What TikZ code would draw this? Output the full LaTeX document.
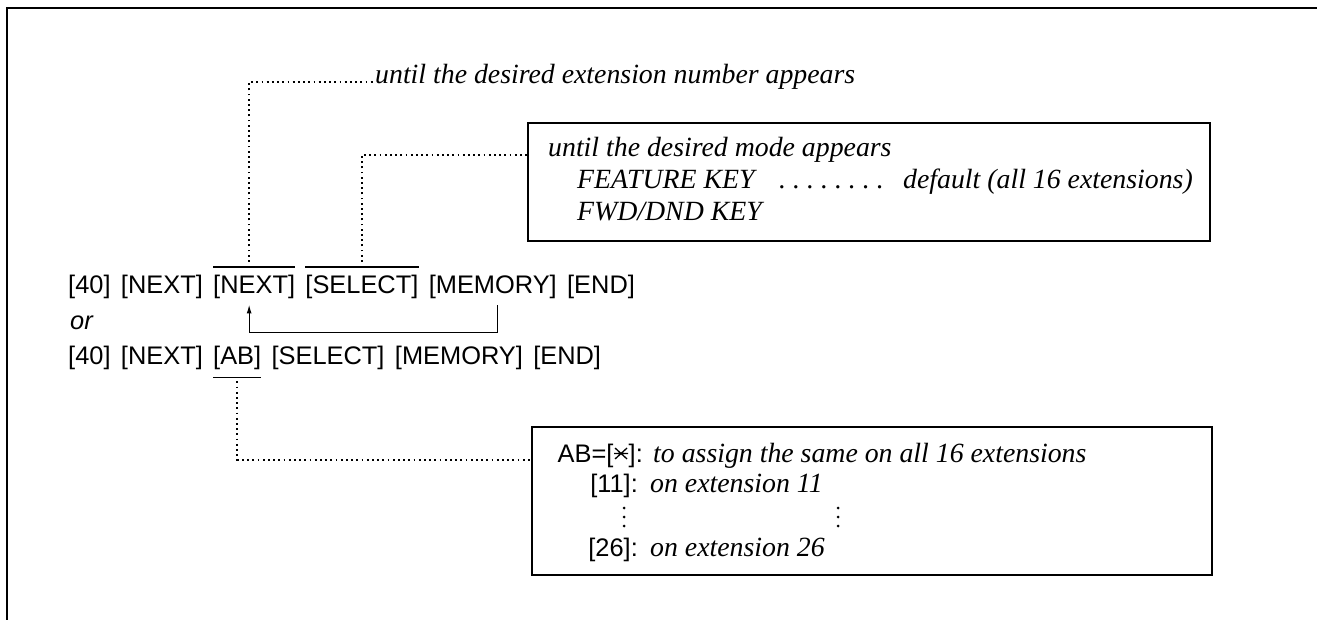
\documentclass[tikz,border=0pt]{standalone}
\usepackage{fontspec}
\newfontfamily\keyfont{Liberation Sans}
\newfontfamily\notefont{Liberation Serif}
\usetikzlibrary{arrows.meta}
\newcommand{\starkey}{\tikz[baseline=0pt]\draw[line width=1.3pt] (1pt,3pt)--(13pt,14pt) (1pt,14pt)--(13pt,3pt) (0pt,8.5pt)--(14pt,8.5pt);}
\newcommand{\vdotsym}{\tikz\fill (0pt,0pt) circle (1.5pt) (0pt,9pt) circle (1.5pt) (0pt,18pt) circle (1.5pt);}
\newcommand{\leaddot}{.\hspace{7pt}}
\tikzset{
  key/.style={font=\keyfont\fontsize{25.4}{30}\selectfont, inner sep=0pt, anchor=base west},
  note/.style={font=\notefont\itshape\fontsize{27.8}{32}\selectfont, inner sep=0pt, anchor=base west},
  leader/.style={line width=1.7pt, dash pattern=on 1.8pt off 3.4pt},
  frame/.style={line width=2pt},
  box/.style={draw, line width=1.6pt, rectangle, inner sep=0pt},
  bar/.style={line width=1.3pt},
  loop/.style={line width=1.3pt, -{Latex[length=9pt,width=5pt]}},
}
\begin{document}
\begin{tikzpicture}[x=1pt,y=-1pt]
\useasboundingbox (0,0) rectangle (1317,620);
\draw[frame] (1317,8) -- (7,8) -- (7,620);

% boxes
\node[box, minimum width=682pt, minimum height=118pt] (box1) at (869,182) {};
\node[box, minimum width=680pt, minimum height=148pt] (box2) at (872,501) {};

% line 1
\node[key] (l1a) at (68,294) {[40]};
\node[key] (l1b) at ([xshift=10pt]l1a.base east) {[NEXT]};
\node[key] (l1c) at ([xshift=10pt]l1b.base east) {[NEXT]};
\node[key] (l1d) at ([xshift=10pt]l1c.base east) {[SELECT]};
\node[key] (l1e) at ([xshift=10pt]l1d.base east) {[MEMORY]};
\node[key] (l1f) at ([xshift=10pt]l1e.base east) {[END]};
\draw[bar] ([yshift=8.5pt]l1c.north west) -- ([yshift=8.5pt]l1c.north east);
\draw[bar] ([yshift=8.5pt]l1d.north west) -- ([yshift=8.5pt]l1d.north east);
\draw[loop] ([xshift=5pt,yshift=-6pt]l1e.south) -- ++(0,27) -| ([xshift=-5pt,yshift=-5pt]l1c.south);

% or
\node[font=\keyfont\itshape\fontsize{25.4}{30}\selectfont, inner sep=0pt, anchor=base west] (or) at (70,329) {or};

% line 2
\node[key] (l2a) at (68,364) {[40]};
\node[key] (l2b) at ([xshift=10pt]l2a.base east) {[NEXT]};
\node[key] (l2c) at ([xshift=10pt]l2b.base east) {[AB]};
\node[key] (l2d) at ([xshift=10pt]l2c.base east) {[SELECT]};
\node[key] (l2e) at ([xshift=10pt]l2d.base east) {[MEMORY]};
\node[key] (l2f) at ([xshift=10pt]l2e.base east) {[END]};
\draw[bar] ([yshift=-7.7pt]l2c.south west) -- ([yshift=-7.7pt]l2c.south east);

% top note
\node[note] (t1) at (375,84) {until the desired extension number appears};

% box 1 content
\node[note] (m1) at (548,157) {until the desired mode appears};
\node[note] (m2) at (577,189) {FEATURE KEY};
\node[note] (m2d) at (779,189) {\leaddot\leaddot\leaddot\leaddot\leaddot\leaddot\leaddot.};
\node[note] (m3) at (903,189) {default (all 16 extensions)};
\node[note] (m4) at (577,221) {FWD/DND KEY};

% box 2 content
\node[key, anchor=base east] (r1k) at (643,462) {AB=[\starkey]:};
\node[note] (r1) at (653,462) {to assign the same on all 16 extensions};
\node[key, anchor=base east] (r2k) at (638,492) {[11]:};
\node[note] (r2) at (650,492) {on extension 11};
\node[inner sep=0pt] (v1) at (624,517) {\vdotsym};
\node[inner sep=0pt] (v2) at (838,517) {\vdotsym};
\node[key, anchor=base east] (r3k) at (638,556) {[26]:};
\node[note] (r3) at (650,556) {on extension 26};

% dotted connectors
\draw[leader] ([xshift=-5pt,yshift=13.5pt]l1c.north) |- (t1.mid west);
\draw[leader] ([yshift=13.5pt]l1d.north) |- (box1.west |- m1.mid);
\draw[leader] ([yshift=-12pt]l2c.south) |- (box2.west |- r1k.mid);
\end{tikzpicture}
\end{document}
